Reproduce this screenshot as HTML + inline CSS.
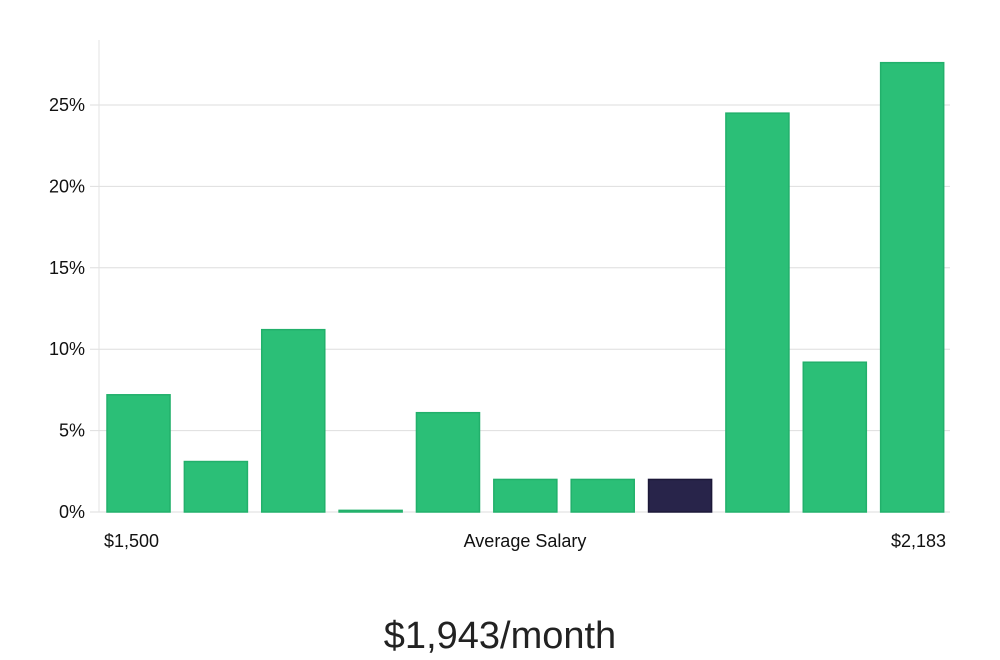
<!DOCTYPE html>
<html><head><meta charset="utf-8"><style>
html,body{margin:0;padding:0;background:#fff;width:1000px;height:660px;overflow:hidden;font-family:"Liberation Sans","DejaVu Sans",sans-serif}
</style></head><body>
<svg id="chart" width="1000" height="660" xmlns="http://www.w3.org/2000/svg">
<g id="grid"></g>
<g id="bars"></g>
<g id="yaxis"></g>
<text x="104" y="547" font-size="18" fill="#111">$1,500</text>
<text x="525" y="547" font-size="18" fill="#111" text-anchor="middle">Average Salary</text>
<text x="946" y="547" font-size="18" fill="#111" text-anchor="end">$2,183</text>
<text x="500" y="648" font-size="38" fill="#222" text-anchor="middle" font-weight="300">$1,943/month</text>
</svg>
<script>
const categories = ["b1","b2","b3","b4","b5","b6","b7","b8","b9","b10","b11"];
const values = [7.2,3.1,11.2,0.1,6.1,2.0,2.0,2.0,24.5,9.2,27.6];
const highlightIndex = 7;
const yTicks = [0,5,10,15,20,25];
const yTickLabels = ["0%","5%","10%","15%","20%","25%"];

const NS="http://www.w3.org/2000/svg";
const x0=99,x1=950,y0=512,pxPerUnit=(512-105)/25;
const y=v=>y0-v*pxPerUnit;
const pitch=(x1-x0)/categories.length;
const bw=pitch*0.815;
const xb=i=>x0+8+i*pitch;

const grid=document.getElementById('grid');
const ya=document.getElementById('yaxis');
const axis=document.createElementNS(NS,'line');


axis.setAttribute('x1',x0);axis.setAttribute('x2',x0);axis.setAttribute('y1',40);axis.setAttribute('y2',y0);
axis.setAttribute('stroke','#e3e3e3');
ya.appendChild(axis);
yTicks.forEach((t,i)=>{
  const l=document.createElementNS(NS,'line');
  
  
  l.setAttribute('x1',90);l.setAttribute('x2',x1);l.setAttribute('y1',y(t));l.setAttribute('y2',y(t));
  l.setAttribute('stroke','#dedede');
  grid.appendChild(l);
  const tx=document.createElementNS(NS,'text');
  
  
  tx.setAttribute('x',85);tx.setAttribute('y',y(t)+6);tx.setAttribute('text-anchor','end');
  tx.setAttribute('font-size','18');tx.setAttribute('fill','#111');
  tx.textContent=yTickLabels[i];
  ya.appendChild(tx);
});
const bars=document.getElementById('bars');
values.forEach((v,i)=>{
  const r=document.createElementNS(NS,'rect');
  
  
  r.setAttribute('x',xb(i));r.setAttribute('y',y(v));
  r.setAttribute('width',bw);r.setAttribute('height',Math.max(1,y0-y(v)));
  const hl=i===highlightIndex;
  r.setAttribute('fill',hl?'#28244a':'#2bbf77');
  r.setAttribute('stroke',hl?'#1c1838':'#22b06b');
  r.setAttribute('stroke-width','1.5');
  bars.appendChild(r);
});
</script>
</body></html>
